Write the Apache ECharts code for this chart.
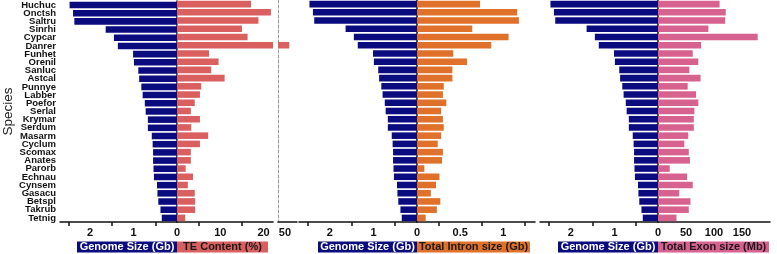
<!DOCTYPE html>
<html>
<head>
<meta charset="utf-8">
<script src="https://cdn.jsdelivr.net/npm/echarts@6.0.0/dist/echarts.min.js"></script>
<style>
html, body { margin: 0; padding: 0; background: #fff; }
#chart { width: 777px; height: 254px; }
</style>
</head>
<body>
<div id="chart"></div>
<script>
// species, top to bottom
var species = ["Huchuc", "Onctsh", "Saltru", "Sinrhi", "Cypcar", "Danrer", "Funhet", "Orenil", "Sanluc", "Astcal",
  "Punnye", "Labber", "Poefor", "Serlal", "Krymar", "Serdum", "Masarm", "Cyclum", "Scomax", "Anates",
  "Parorb", "Echnau", "Cynsem", "Gasacu", "Betspl", "Takrub", "Tetnig"];
// genome size (Gb)
var genomeSize = [2.47, 2.39, 2.36, 1.64, 1.45, 1.36, 1.01, 0.99, 0.89, 0.87,
  0.82, 0.79, 0.74, 0.72, 0.67, 0.67, 0.58, 0.56, 0.55, 0.55,
  0.54, 0.53, 0.46, 0.45, 0.43, 0.38, 0.35];
// TE content (%)
var teContent = [17.1, 21.7, 18.8, 15.0, 16.3, 51.0, 7.4, 9.6, 7.9, 11.0,
  5.6, 5.3, 4.1, 3.2, 5.3, 3.3, 7.2, 5.3, 3.2, 3.2,
  2.0, 3.7, 2.5, 4.1, 4.2, 4.2, 1.9];
// total intron size (Gb)
var intronSize = [0.73, 1.16, 1.18, 0.64, 1.06, 0.86, 0.42, 0.58, 0.41, 0.41,
  0.31, 0.30, 0.34, 0.28, 0.30, 0.31, 0.28, 0.24, 0.30, 0.29,
  0.085, 0.26, 0.22, 0.16, 0.27, 0.23, 0.10];
// total exon size (Mb)
var exonSize = [110, 121, 120, 90, 178, 77, 62, 72, 56, 76,
  53, 68, 72, 65, 64, 64, 54, 47, 55, 57,
  21, 52, 62, 38, 58, 55, 33];

var NAVY = "#0b0b80", TE = "#da6060", INTRON = "#e0712a", EXON = "#d8628f";
var FONT = "Liberation Sans, Arial, sans-serif";

var grids = [
  { left: 60, width: 117 },   // genome 1
  { left: 177, width: 96 },   // TE
  { left: 278, width: 19 },   // TE, part past the break
  { left: 299, width: 118 },  // genome 2
  { left: 417, width: 118 },  // intron
  { left: 540, width: 118 },  // genome 3
  { left: 658, width: 112 }   // exon
].map(function (g) { return { left: g.left, width: g.width, top: 0, height: 222 }; });

function xAx(i, min, max, inverse, labels, ticks) {
  return {
    gridIndex: i, type: "value", min: min, max: max, inverse: inverse,
    splitLine: { show: false },
    axisLine: { show: true, lineStyle: { color: "#111", width: 1.5 } },
    axisTick: { show: ticks.length > 0, customValues: ticks, length: 4, lineStyle: { color: "#111", width: 1.5 } },
    axisLabel: { customValues: labels, margin: 5, fontFamily: FONT, fontWeight: "bold", fontSize: 11, color: "#111" }
  };
}

function yAx(i, mode) {
  var ax = { gridIndex: i, type: "category", data: species, inverse: true };
  if (mode === "main") {
    ax.axisLine = { show: true, lineStyle: { color: "#111", width: 1.5 } };
    ax.axisTick = { show: true, alignWithLabel: true, length: 3, lineStyle: { color: "#111", width: 1.5 } };
    ax.axisLabel = { show: false };
  } else if (mode === "dashR" || mode === "dashL") {
    ax.position = mode === "dashR" ? "right" : "left";
    ax.axisLine = { show: true, lineStyle: { color: "#999", width: 1, type: [3, 2] } };
    ax.axisTick = { show: false };
    ax.axisLabel = { show: false };
  } else {
    ax.show = false;
  }
  return ax;
}

var yAxes = [yAx(0, "main"), yAx(1, "dashR"), yAx(2, "dashL"), yAx(3, "main"), yAx(4, "none"), yAx(5, "main"), yAx(6, "none")];
yAxes[0].axisLabel = { show: true, interval: 0, margin: 4, fontFamily: FONT, fontWeight: "bold", fontSize: 9.5, color: "#111" };
yAxes[0].name = "Species";
yAxes[0].nameLocation = "middle";
yAxes[0].nameGap = 36;
yAxes[0].nameTextStyle = { fontFamily: FONT, fontSize: 13.5, color: "#222" };

var xAxes = [
  xAx(0, 0, 2.69, true, [0, 1, 2], [0.5, 1.5, 2.5]),
  xAx(1, 0, 22.17, false, [10, 20], [5, 15]),
  xAx(2, 48.4, 52.8, false, [50], []),
  xAx(3, 0, 2.71, true, [0, 1, 2], [0.5, 1.5, 2.5]),
  xAx(4, 0, 1.366, false, [0.5, 1], [0.25, 0.75, 1.25]),
  xAx(5, 0, 2.71, true, [0, 1, 2], [0.5, 1.5, 2.5]),
  xAx(6, 0, 200, false, [50, 100, 150], [])
];

function bar(i, data, color) {
  return { type: "bar", xAxisIndex: i, yAxisIndex: i, data: data, barWidth: "80%",
    itemStyle: { color: color }, clip: true, silent: true, animation: false };
}

function box(x, w, color, text, textColor) {
  return [
    { type: "rect", shape: { x: x, y: 241.5, width: w, height: 11 }, style: { fill: color }, silent: true },
    { type: "text", x: x + w / 2, y: 247, style: { text: text, fill: textColor, font: "bold 11px " + FONT,
      textAlign: "center", textVerticalAlign: "middle" }, silent: true }
  ];
}

var chart = echarts.init(document.getElementById("chart"), null, { renderer: "canvas" });
chart.setOption({
  animation: false,
  grid: grids,
  xAxis: xAxes,
  yAxis: yAxes,
  series: [
    bar(0, genomeSize, NAVY),
    bar(1, teContent, TE),
    bar(2, teContent, TE),
    bar(3, genomeSize, NAVY),
    bar(4, intronSize, INTRON),
    bar(5, genomeSize, NAVY),
    bar(6, exonSize, EXON)
  ],
  graphic: [].concat(
    box(77, 100, NAVY, "Genome Size (Gb)", "#fff"),
    box(177, 91, TE, "TE Content (%)", "#1a1a1a"),
    box(318, 99, NAVY, "Genome Size (Gb)", "#fff"),
    box(417, 113, INTRON, "Total Intron size (Gb)", "#1a1a1a"),
    box(558, 100, NAVY, "Genome Size (Gb)", "#fff"),
    box(658, 111, EXON, "Total Exon size (Mb)", "#1a1a1a")
  )
});
</script>
</body>
</html>
